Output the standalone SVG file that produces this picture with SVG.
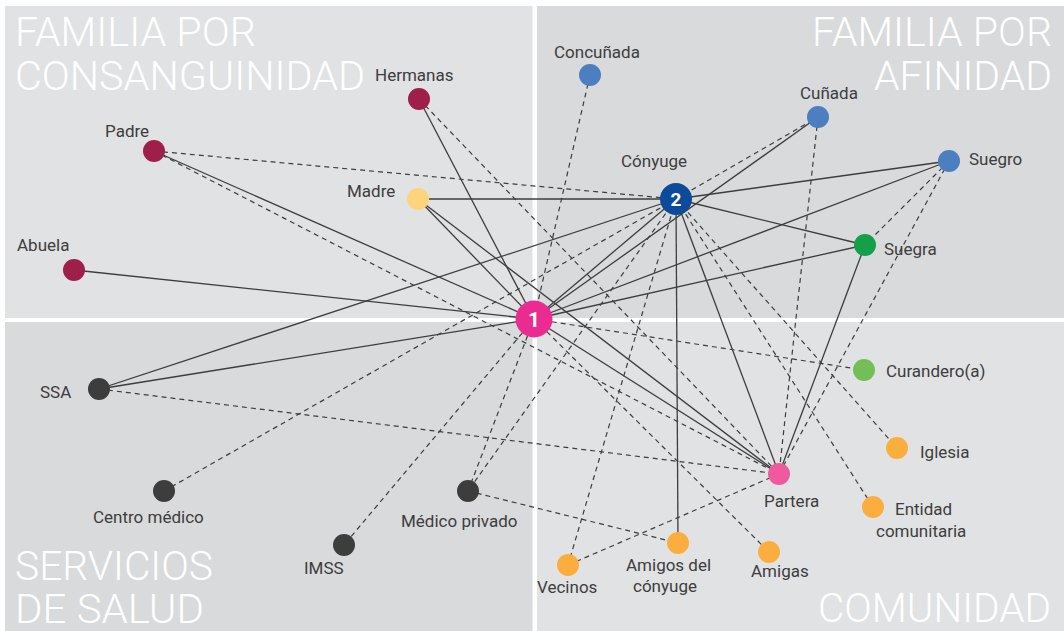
<svg xmlns="http://www.w3.org/2000/svg" width="1064" height="631" viewBox="0 0 1064 631">
<style>
.pl{fill:#e1e2e4}
.pd{fill:#d9dadc}
.ttl{font-family:Roboto,"Liberation Sans",sans-serif;font-weight:300;font-size:40px;fill:#ffffff}
.lbl{font-family:Roboto,"Liberation Sans",sans-serif;font-size:17px;fill:#3d3d3d}
.num{font-family:Roboto,"Liberation Sans",sans-serif;font-weight:700;fill:#ffffff;text-anchor:middle}
.s{stroke:#3d3d3d;stroke-width:1.3;fill:none}
.d{stroke:#3d3d3d;stroke-width:1.2;fill:none;stroke-dasharray:5 4}
.mar{fill:#9e1f4a}
.blu{fill:#4b7fc0}
.org{fill:#fbae3e}
.drk{fill:#3d3d3d}
</style>
<rect width="1064" height="631" fill="#ffffff"/>
<g id="panels">
<rect class="pl" x="5" y="6" width="527.5" height="312"/>
<rect class="pd" x="537" y="6" width="527" height="312"/>
<rect class="pd" x="5" y="322" width="527.5" height="309"/>
<rect class="pl" x="537" y="322" width="527" height="309"/>
</g>
<g id="titles">
<text class="ttl"><tspan x="15" y="46" textLength="241" lengthAdjust="spacingAndGlyphs">FAMILIA POR</tspan><tspan x="15" y="90" textLength="350" lengthAdjust="spacingAndGlyphs">CONSANGUINIDAD</tspan></text>
<text class="ttl"><tspan x="812" y="46" textLength="240" lengthAdjust="spacingAndGlyphs">FAMILIA POR</tspan><tspan x="874" y="90" textLength="178" lengthAdjust="spacingAndGlyphs">AFINIDAD</tspan></text>
<text class="ttl"><tspan x="15" y="580" textLength="198" lengthAdjust="spacingAndGlyphs">SERVICIOS</tspan><tspan x="15" y="623" textLength="189" lengthAdjust="spacingAndGlyphs">DE SALUD</tspan></text>
<text class="ttl" x="818" y="622" textLength="233" lengthAdjust="spacingAndGlyphs">COMUNIDAD</text>
</g>
<g id="connectors">
<line class="s" x1="419" y1="99" x2="534" y2="319"/>
<line class="s" x1="154" y1="151" x2="534" y2="319"/>
<line class="s" x1="418" y1="199" x2="534" y2="319"/>
<line class="s" x1="74" y1="270" x2="534" y2="319"/>
<line class="s" x1="99" y1="389" x2="534" y2="319"/>
<line class="s" x1="534" y1="319" x2="676" y2="199"/>
<line class="s" x1="534" y1="319" x2="818" y2="117"/>
<line class="s" x1="534" y1="319" x2="949" y2="161"/>
<line class="s" x1="534" y1="319" x2="865" y2="245"/>
<line class="s" x1="534" y1="319" x2="779" y2="474"/>
<line class="s" x1="418" y1="199" x2="779" y2="474"/>
<line class="s" x1="418" y1="199" x2="676" y2="199" stroke-width="2.2"/>
<line class="s" x1="99" y1="389" x2="676" y2="199"/>
<line class="s" x1="676" y1="199" x2="949" y2="161"/>
<line class="s" x1="676" y1="199" x2="865" y2="245"/>
<line class="s" x1="676" y1="199" x2="779" y2="474"/>
<line class="s" x1="676" y1="199" x2="678" y2="543"/>
<line class="s" x1="865" y1="245" x2="779" y2="474"/>
<line class="d" x1="419" y1="99" x2="779" y2="474"/>
<line class="d" x1="154" y1="151" x2="676" y2="199"/>
<line class="d" x1="154" y1="151" x2="779" y2="474"/>
<line class="d" x1="590" y1="75" x2="534" y2="319"/>
<line class="d" x1="534" y1="319" x2="864" y2="370"/>
<line class="d" x1="534" y1="319" x2="344" y2="545"/>
<line class="d" x1="534" y1="319" x2="468" y2="491"/>
<line class="d" x1="534" y1="319" x2="769" y2="552"/>
<line class="d" x1="676" y1="199" x2="164" y2="491"/>
<line class="d" x1="676" y1="199" x2="468" y2="491"/>
<line class="d" x1="676" y1="199" x2="568" y2="565"/>
<line class="d" x1="676" y1="199" x2="873" y2="507"/>
<line class="d" x1="676" y1="199" x2="897" y2="448"/>
<line class="d" x1="676" y1="199" x2="818" y2="117"/>
<line class="d" x1="818" y1="117" x2="779" y2="474"/>
<line class="d" x1="949" y1="161" x2="865" y2="245"/>
<line class="d" x1="949" y1="161" x2="779" y2="474"/>
<line class="d" x1="99" y1="389" x2="779" y2="474"/>
<line class="d" x1="468" y1="491" x2="678" y2="543"/>
<line class="d" x1="568" y1="565" x2="779" y2="474"/>
</g>
<g id="hermanas"><circle class="mar" cx="419" cy="99" r="11"/><text class="lbl" x="375" y="81">Hermanas</text></g>
<g id="padre"><circle class="mar" cx="154" cy="151" r="11"/><text class="lbl" x="105" y="137">Padre</text></g>
<g id="madre"><circle fill="#fdd47c" cx="418" cy="199" r="11"/><text class="lbl" x="347" y="197">Madre</text></g>
<g id="abuela"><circle class="mar" cx="74" cy="270" r="11"/><text class="lbl" x="17" y="251">Abuela</text></g>
<g id="concunada"><circle class="blu" cx="590" cy="75" r="11"/><text class="lbl" x="554" y="58">Concuñada</text></g>
<g id="cunada"><circle class="blu" cx="818" cy="117" r="11"/><text class="lbl" x="800" y="99">Cuñada</text></g>
<g id="suegro"><circle class="blu" cx="949" cy="161" r="11"/><text class="lbl" x="969" y="165">Suegro</text></g>
<g id="suegra"><circle fill="#14a049" cx="865" cy="245" r="11"/><text class="lbl" x="884" y="255">Suegra</text></g>
<g id="conyuge"><circle fill="#0c4a9a" cx="676" cy="199" r="16"/><text class="num" x="676" y="206" font-size="19">2</text><text class="lbl" x="621" y="167">Cónyuge</text></g>
<g id="ego"><circle fill="#ea2b8f" cx="534" cy="319" r="18.5"/><text class="num" x="534" y="327" font-size="21">1</text></g>
<g id="curandero"><circle fill="#72bf5a" cx="864" cy="370" r="11"/><text class="lbl" x="886" y="377">Curandero(a)</text></g>
<g id="iglesia"><circle class="org" cx="897" cy="448" r="11"/><text class="lbl" x="920" y="458">Iglesia</text></g>
<g id="entidad"><circle class="org" cx="873" cy="507" r="11"/><text class="lbl"><tspan x="895" y="515">Entidad</tspan><tspan x="876" y="537">comunitaria</tspan></text></g>
<g id="partera"><circle fill="#ee5a9d" cx="779" cy="474" r="11"/><text class="lbl" x="764" y="507">Partera</text></g>
<g id="amigas"><circle class="org" cx="769" cy="552" r="11"/><text class="lbl" x="751" y="577">Amigas</text></g>
<g id="amigos-conyuge"><circle class="org" cx="678" cy="543" r="11"/><text class="lbl"><tspan x="626" y="571">Amigos del</tspan><tspan x="633" y="592">cónyuge</tspan></text></g>
<g id="vecinos"><circle class="org" cx="568" cy="565" r="11"/><text class="lbl" x="537" y="593">Vecinos</text></g>
<g id="ssa"><circle class="drk" cx="99" cy="389" r="11"/><text class="lbl" x="40" y="398">SSA</text></g>
<g id="centro-medico"><circle class="drk" cx="164" cy="491" r="11"/><text class="lbl" x="93" y="523">Centro médico</text></g>
<g id="imss"><circle class="drk" cx="344" cy="545" r="11"/><text class="lbl" x="304" y="574">IMSS</text></g>
<g id="medico-privado"><circle class="drk" cx="468" cy="491" r="11"/><text class="lbl" x="401" y="527">Médico privado</text></g>
</svg>
